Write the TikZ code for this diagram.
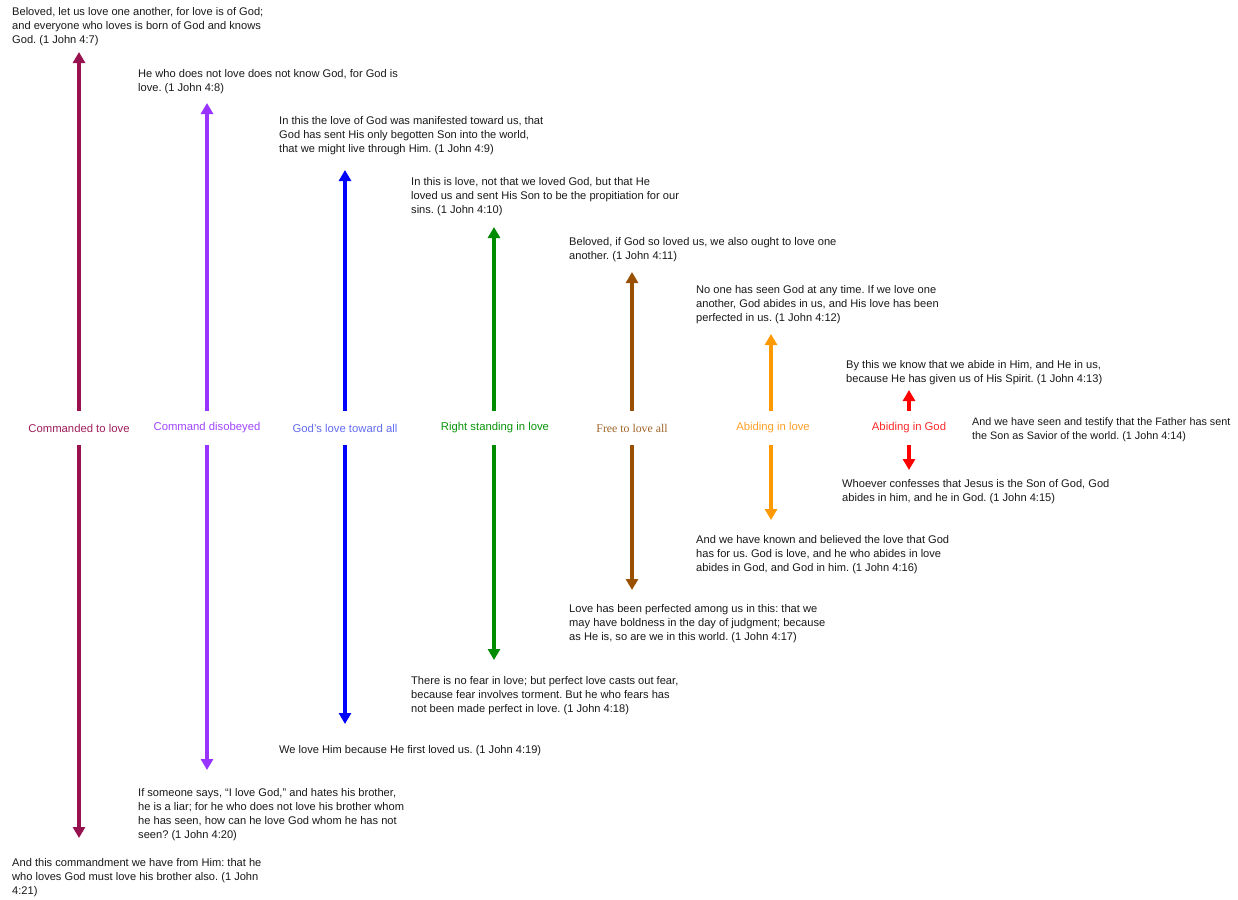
\documentclass[tikz,border=0pt]{standalone}
\usepackage{fontspec}
\setmainfont{Liberation Sans}
\newfontfamily\serifbrown{Liberation Serif}
\usetikzlibrary{arrows.meta}
\frenchspacing
\definecolor{cmaroon}{RGB}{153,18,80}
\definecolor{cpurple}{RGB}{153,51,255}
\definecolor{cblue}{RGB}{0,0,255}
\definecolor{cgreen}{RGB}{0,140,0}
\definecolor{cbrown}{RGB}{153,80,0}
\definecolor{corange}{RGB}{255,153,0}
\definecolor{cred}{RGB}{255,0,0}
\definecolor{lmaroon}{RGB}{160,30,90}
\definecolor{lpurple}{RGB}{160,70,255}
\definecolor{lblue}{RGB}{100,110,240}
\definecolor{lgreen}{RGB}{10,150,10}
\definecolor{lbrown}{RGB}{160,100,40}
\definecolor{lorange}{RGB}{255,160,40}
\definecolor{lred}{RGB}{255,40,40}
\begin{document}
\begin{tikzpicture}[x=1pt,y=-1pt,
  verse/.style={anchor=north west,inner sep=0pt,align=left,text=black!90,font=\fontsize{11.1}{14}\selectfont},
  lab/.style={inner sep=0pt,minimum height=34pt,font=\fontsize{11.3}{12}\selectfont},
  arr/.style={line width=3.2pt,-{Triangle[width=12pt,length=11pt]}}]
\useasboundingbox[fill=white] (0,0) rectangle (1238,899);
% labels
\node[lab,text=lmaroon] (l1) at (79,428) {Commanded to love};
\node[lab,text=lpurple] (l2) at (207,428) {Command disobeyed};
\node[lab,text=lblue] (l3) at (345,428) {God's love toward all};
\node[lab,text=lgreen] (l4) at (495,428) {Right standing in love};
\node[lab,text=lbrown,font=\serifbrown\fontsize{11.8}{12}\selectfont] (l5) at (632,428) {Free to love all};
\node[lab,text=lorange] (l6) at (773,428) {Abiding in love};
\node[lab,text=lred] (l7) at (909,428) {Abiding in God};
% tips
\coordinate (u1) at (79,52);   \coordinate (d1) at (79,838);
\coordinate (u2) at (207,103); \coordinate (d2) at (207,770);
\coordinate (u3) at (345,170); \coordinate (d3) at (345,724);
\coordinate (u4) at (494,227); \coordinate (d4) at (494,660);
\coordinate (u5) at (632,272); \coordinate (d5) at (632,590);
\coordinate (u6) at (771,334); \coordinate (d6) at (771,520);
\coordinate (u7) at (909,390); \coordinate (d7) at (909,470);
\draw[arr,cmaroon] (l1.north -| u1) -- (u1);
\draw[arr,cmaroon] (l1.south -| d1) -- (d1);
\draw[arr,cpurple] (l2.north -| u2) -- (u2);
\draw[arr,cpurple] (l2.south -| d2) -- (d2);
\draw[arr,cblue] (l3.north -| u3) -- (u3);
\draw[arr,cblue] (l3.south -| d3) -- (d3);
\draw[arr,cgreen] (l4.north -| u4) -- (u4);
\draw[arr,cgreen] (l4.south -| d4) -- (d4);
\draw[arr,cbrown] (l5.north -| u5) -- (u5);
\draw[arr,cbrown] (l5.south -| d5) -- (d5);
\draw[arr,corange] (l6.north -| u6) -- (u6);
\draw[arr,corange] (l6.south -| d6) -- (d6);
\draw[arr,cred] (l7.north -| u7) -- (u7);
\draw[arr,cred] (l7.south -| d7) -- (d7);
% verses
\node[verse] (v7) at (12,7) {Beloved, let us love one another, for love is of God;\\and everyone who loves is born of God and knows\\God. (1 John 4:7)};
\node[verse] (v8) at (138,69) {He who does not love does not know God, for God is\\love. (1 John 4:8)};
\node[verse] (v9) at (279,116) {In this the love of God was manifested toward us, that\\God has sent His only begotten Son into the world,\\that we might live through Him. (1 John 4:9)};
\node[verse] (v10) at (411,177) {In this is love, not that we loved God, but that He\\loved us and sent His Son to be the propitiation for our\\sins. (1 John 4:10)};
\node[verse] (v11) at (569,237) {Beloved, if God so loved us, we also ought to love one\\another. (1 John 4:11)};
\node[verse] (v12) at (696,285) {No one has seen God at any time. If we love one\\another, God abides in us, and His love has been\\perfected in us. (1 John 4:12)};
\node[verse] (v13) at (846,360) {By this we know that we abide in Him, and He in us,\\because He has given us of His Spirit. (1 John 4:13)};
\node[verse,font=\fontsize{10.8}{14}\selectfont] (v14) at (972,417) {And we have seen and testify that the Father has sent\\the Son as Savior of the world. (1 John 4:14)};
\node[verse] (v15) at (842,479) {Whoever confesses that Jesus is the Son of God, God\\abides in him, and he in God. (1 John 4:15)};
\node[verse] (v16) at (696,535) {And we have known and believed the love that God\\has for us. God is love, and he who abides in love\\abides in God, and God in him. (1 John 4:16)};
\node[verse] (v17) at (569,604) {Love has been perfected among us in this: that we\\may have boldness in the day of judgment; because\\as He is, so are we in this world. (1 John 4:17)};
\node[verse] (v18) at (411,676) {There is no fear in love; but perfect love casts out fear,\\because fear involves torment. But he who fears has\\not been made perfect in love. (1 John 4:18)};
\node[verse] (v19) at (279,745) {We love Him because He first loved us. (1 John 4:19)};
\node[verse] (v20) at (138,788) {If someone says, “I love God,” and hates his brother,\\he is a liar; for he who does not love his brother whom\\he has seen, how can he love God whom he has not\\seen? (1 John 4:20)};
\node[verse] (v21) at (12,858) {And this commandment we have from Him: that he\\who loves God must love his brother also. (1 John\\4:21)};
\end{tikzpicture}
\end{document}
